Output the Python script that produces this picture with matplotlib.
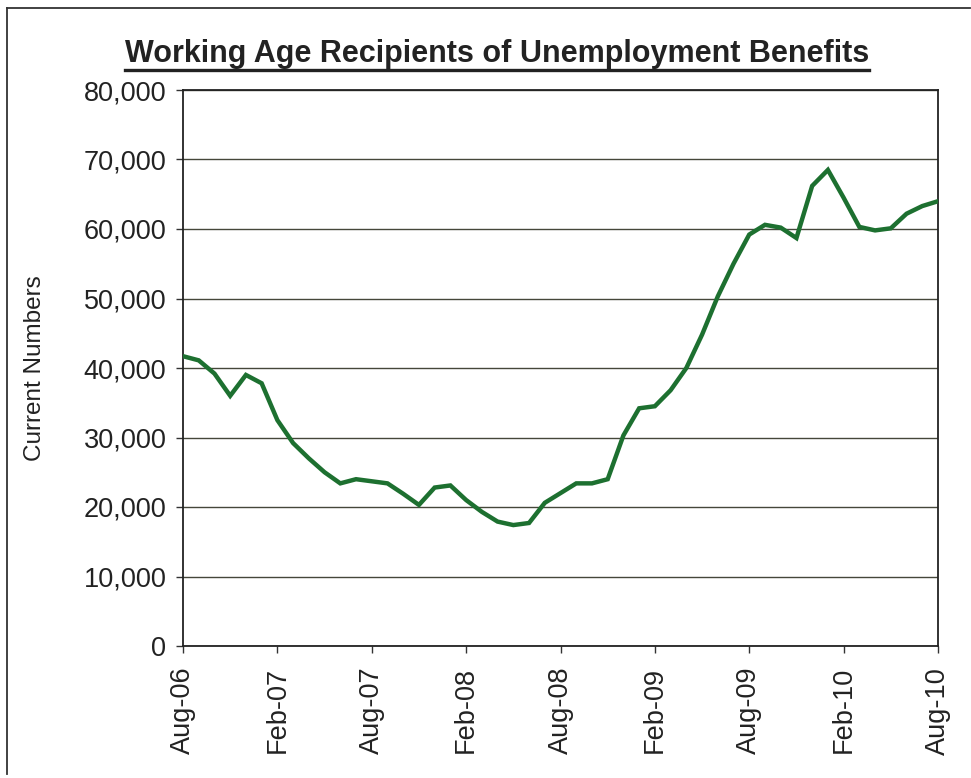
import matplotlib
matplotlib.use("Agg")
import matplotlib.pyplot as plt
from matplotlib.lines import Line2D

plt.rcParams['font.family'] = ['Liberation Sans', 'DejaVu Sans']

month_names = ["Jan", "Feb", "Mar", "Apr", "May", "Jun", "Jul", "Aug", "Sep", "Oct", "Nov", "Dec"]
months = []
for k in range(49):
    m = (7 + k) % 12
    y = 6 + (7 + k) // 12
    months.append(f"{month_names[m]}-{y:02d}")

recipients = [41700, 41100, 39200, 36000, 39000, 37800, 32500, 29200, 27000, 25000,
              23400, 24000, 23700, 23400, 21900, 20300, 22800, 23100, 21000, 19300,
              17900, 17400, 17700, 20600, 22000, 23400, 23400, 24000, 30300, 34200,
              34500, 36800, 40000, 44800, 50300, 55000, 59200, 60600, 60200, 58700,
              66200, 68500, 64500, 60300, 59800, 60100, 62200, 63300, 64000]

y_ticks = [0, 10000, 20000, 30000, 40000, 50000, 60000, 70000, 80000]

W, H = 971, 778
fig = plt.figure(figsize=(W / 100, H / 100), dpi=100)
ax = fig.add_axes([183 / W, 1 - 646 / H, (938 - 183) / W, (646 - 90) / H])

x = list(range(len(recipients)))
ax.plot(x, recipients, color='#1d7030', lw=3.2, solid_joinstyle='miter', zorder=3)

ax.set_xlim(0, len(recipients) - 1)
ax.set_ylim(0, 80000)
ax.set_yticks(y_ticks)
ax.set_yticklabels([f"{v:,}" for v in y_ticks], fontsize=19.5, color='#222222')
ax.set_xticks(x[::6])
ax.set_xticklabels(months[::6], rotation=90, fontsize=19.5, color='#222222')
ax.tick_params(axis='y', direction='out', length=5, width=1, color='#333333', pad=7)
ax.tick_params(axis='x', direction='out', length=5, width=1, color='#333333', pad=10)
ax.yaxis.grid(True, color='#45473a', lw=1.0)
ax.set_axisbelow(True)
for s in ax.spines.values():
    s.set_color('#222222')
    s.set_linewidth(1.3)

ax.set_ylabel("Current Numbers", fontsize=17.5, color='#222222')
ax.yaxis.set_label_coords(46 / W, 1 - 368 / H, transform=fig.transFigure)

title = fig.text(497 / W, 1 - 54 / H, "Working Age Recipients of Unemployment Benefits",
                 ha='center', va='center', fontsize=22, fontweight='bold', color='#222222')
fig.canvas.draw()
bb = title.get_window_extent()
uy = (H - 70) / H
fig.add_artist(Line2D([bb.x0 / W, bb.x1 / W], [uy, uy], color='#222222', lw=2.4,
                      transform=fig.transFigure))

# scanned page border
fig.add_artist(Line2D([7 / W, 7 / W], [1 - 8 / H, 0.005], color='#333333', lw=1.3,
                      transform=fig.transFigure))
fig.add_artist(Line2D([7 / W, 0.999], [1 - 8 / H, 1 - 8 / H], color='#333333', lw=1.3,
                      transform=fig.transFigure))

fig.savefig("out.png", dpi=100)
